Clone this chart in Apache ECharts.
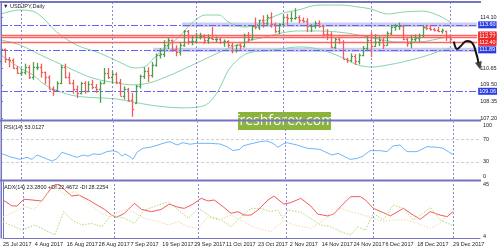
<!DOCTYPE html>
<html><head><meta charset="utf-8">
<script src="https://cdn.jsdelivr.net/npm/echarts@6/dist/echarts.min.js"></script>
<style>html,body{margin:0;padding:0;background:#fff}#c{width:500px;height:250px}</style>
</head><body><div id="c"></div>
<script>
const dates = ['25 Jul 2017','26 Jul 2017','27 Jul 2017','28 Jul 2017','31 Jul 2017',
'1 Aug 2017','2 Aug 2017','3 Aug 2017','4 Aug 2017','7 Aug 2017','8 Aug 2017','9 Aug 2017','10 Aug 2017','11 Aug 2017','14 Aug 2017','15 Aug 2017','16 Aug 2017','17 Aug 2017','18 Aug 2017','21 Aug 2017','22 Aug 2017','23 Aug 2017','24 Aug 2017','25 Aug 2017','28 Aug 2017','29 Aug 2017','30 Aug 2017','31 Aug 2017',
'1 Sep 2017','4 Sep 2017','5 Sep 2017','6 Sep 2017','7 Sep 2017','8 Sep 2017','11 Sep 2017','12 Sep 2017','13 Sep 2017','14 Sep 2017','15 Sep 2017','18 Sep 2017','19 Sep 2017','20 Sep 2017','21 Sep 2017','22 Sep 2017','25 Sep 2017','26 Sep 2017','27 Sep 2017','28 Sep 2017','29 Sep 2017',
'2 Oct 2017','3 Oct 2017','4 Oct 2017','5 Oct 2017','6 Oct 2017','9 Oct 2017','10 Oct 2017','11 Oct 2017','12 Oct 2017','13 Oct 2017','16 Oct 2017','17 Oct 2017','18 Oct 2017','19 Oct 2017','20 Oct 2017','23 Oct 2017','24 Oct 2017','25 Oct 2017','26 Oct 2017','27 Oct 2017','30 Oct 2017','31 Oct 2017',
'1 Nov 2017','2 Nov 2017','3 Nov 2017','6 Nov 2017','7 Nov 2017','8 Nov 2017','9 Nov 2017','10 Nov 2017','13 Nov 2017','14 Nov 2017','15 Nov 2017','16 Nov 2017','17 Nov 2017','20 Nov 2017','21 Nov 2017','22 Nov 2017','23 Nov 2017','24 Nov 2017','27 Nov 2017','28 Nov 2017','29 Nov 2017','30 Nov 2017',
'1 Dec 2017','4 Dec 2017','5 Dec 2017','6 Dec 2017','7 Dec 2017','8 Dec 2017','11 Dec 2017','12 Dec 2017','13 Dec 2017','14 Dec 2017','15 Dec 2017','18 Dec 2017','19 Dec 2017','20 Dec 2017','21 Dec 2017','22 Dec 2017','25 Dec 2017','26 Dec 2017','27 Dec 2017','28 Dec 2017','29 Dec 2017'];

const opens = [111.10,111.92,111.25,111.20,110.68,110.30,110.35,110.75,110.05,110.70,110.75,110.35,110.05,109.25,109.15,109.65,110.70,110.05,109.60,109.25,108.95,109.60,109.05,109.55,109.35,109.25,109.65,110.30,110.05,110.25,109.70,108.75,109.20,108.45,108.25,109.40,110.10,110.45,110.20,110.85,111.55,111.60,112.25,112.55,111.95,111.75,112.20,113.20,112.50,112.50,112.75,112.85,112.55,112.70,112.60,112.65,112.45,112.50,112.25,111.85,112.20,112.15,112.90,112.60,113.50,113.45,113.90,113.70,114.10,113.65,113.20,113.65,114.10,114.05,114.05,114.10,113.90,113.85,113.50,113.50,113.70,113.50,113.00,112.95,112.10,112.60,112.45,111.25,111.20,111.50,111.10,111.55,112.00,112.55,112.15,112.45,112.55,112.25,113.05,113.45,113.55,113.55,112.60,112.35,112.60,112.70,112.90,113.45,113.35,113.30,113.25,113.20,113.15,112.80];
const highs = [112.03,111.98,111.40,111.30,110.80,110.60,110.95,110.85,111.05,111.00,110.95,110.40,110.15,109.40,109.75,110.85,110.95,110.35,109.85,109.45,109.70,109.75,109.75,109.85,109.55,109.75,110.65,110.65,110.45,110.35,109.90,109.40,109.30,108.95,109.50,110.20,110.70,110.70,111.05,111.65,112.00,112.55,112.70,112.60,112.20,112.40,113.25,113.25,112.85,113.05,113.05,112.95,112.95,113.45,112.80,112.75,112.60,112.55,112.40,112.25,112.30,113.00,113.10,113.55,114.10,113.95,114.25,114.30,114.45,113.75,113.70,114.30,114.35,114.50,114.73,114.25,114.10,114.05,113.65,113.85,113.90,113.60,113.30,113.10,112.70,112.70,112.55,111.35,111.65,111.60,111.65,112.15,112.85,113.10,112.95,112.80,112.70,113.15,113.60,113.65,113.75,113.60,112.75,112.90,112.95,113.00,113.55,113.60,113.55,113.40,113.45,113.35,113.20,112.85];
const lows = [110.90,111.00,110.70,110.60,110.25,110.10,110.20,109.90,109.85,110.50,110.00,109.55,109.20,108.75,109.10,109.55,109.95,109.55,108.90,108.60,108.85,108.90,109.00,109.20,108.95,108.27,109.55,109.90,109.60,109.55,108.75,108.50,108.35,107.32,108.20,109.25,109.90,109.70,110.00,110.75,111.30,111.40,111.95,111.75,111.45,111.50,112.10,112.25,112.20,112.35,112.60,112.30,112.30,112.55,112.40,112.30,112.10,112.05,111.65,111.70,111.90,112.05,112.40,112.55,113.30,113.25,113.40,113.55,113.40,113.05,112.95,113.55,113.60,113.80,113.95,113.70,113.75,113.10,113.10,113.35,113.40,112.80,112.55,112.00,111.95,112.30,111.25,111.00,111.05,110.85,110.90,111.45,111.85,111.40,112.10,112.15,111.95,112.20,112.90,113.20,113.25,112.55,112.10,112.00,112.45,112.45,112.75,113.25,113.20,113.15,113.10,113.00,112.50,112.40];
const closes = [111.92,111.25,111.20,110.68,110.30,110.35,110.75,110.05,110.70,110.75,110.35,110.05,109.25,109.15,109.65,110.70,110.05,109.60,109.25,108.95,109.60,109.05,109.55,109.35,109.25,109.65,110.30,110.05,110.25,109.70,108.75,109.20,108.45,107.85,109.40,110.10,110.45,110.20,110.85,111.55,111.60,112.25,112.55,111.95,111.75,112.20,113.20,112.50,112.50,112.75,112.85,112.55,112.70,112.60,112.65,112.45,112.50,112.25,111.85,112.20,112.15,112.90,112.60,113.50,113.45,113.90,113.70,114.10,113.65,113.20,113.65,114.10,114.05,114.05,114.10,113.90,113.85,113.50,113.50,113.70,113.50,113.00,112.95,112.10,112.60,112.45,111.25,111.20,111.50,111.10,111.55,112.00,112.55,112.15,112.45,112.55,112.25,113.05,113.45,113.55,113.55,112.60,112.35,112.60,112.70,112.90,113.45,113.35,113.30,113.25,113.20,113.25,112.80,112.60];

const bbUpper = [[0,114.34],[4.75,114.61],[9,114.41],[14,113.11],[19,112.22],[24.75,111.68],[29.75,111.06],[33.5,110.66],[36,110.72],[38.5,111.34],[41,111.95],[44.75,112.77],[48,113.72],[51.5,114.27],[54.75,114.27],[57.25,113.79],[61,113.45],[64.25,113.59],[67.25,114.00],[71,114.41],[74.75,114.61],[79.75,114.95],[85.5,114.95],[89.75,114.82],[93,114.68],[97.25,114.34],[101,114.47],[106,114.54],[109.75,114.27],[113,113.79]];
const bbMiddle = [[0,112.57],[4.75,112.22],[10.5,111.47],[16.5,110.72],[21.5,110.11],[24.75,109.84],[29,109.63],[33,109.50],[37.25,109.63],[41.5,110.04],[45.5,110.52],[49.75,111.06],[54,111.61],[58,112.09],[62.25,112.50],[66.5,112.77],[70.5,113.04],[74.75,113.18],[79.75,113.18],[84.75,113.11],[88.5,112.97],[92.25,112.77],[96,112.57],[99.75,112.43],[104.75,112.43],[109.75,112.63],[113,112.84]];
const bbLower = [[0,111.54],[4.75,110.66],[8,110.18],[11.5,109.43],[16.5,108.88],[20.5,108.68],[24.75,108.61],[29,108.54],[33,108.34],[37.25,108.13],[41.5,107.99],[45.5,107.93],[49.75,107.99],[52.25,108.27],[54.75,109.16],[57.25,110.52],[59.75,111.27],[62.25,111.68],[66,111.82],[70.5,111.95],[74.75,112.09],[78.5,112.02],[82.25,111.75],[86,111.34],[89.75,110.86],[93.5,110.72],[97.25,110.86],[101,111.06],[106,111.41],[109.75,111.75],[113,112.02]];

const rsi = [[0,45],[2.25,39],[4.75,34.5],[6.5,38],[7.75,34.5],[9,42],[10.5,38],[12.75,31.5],[14,36],[15.25,47],[17.25,42],[19,38],[20.5,42],[21.75,40],[23,44],[24.75,43],[26.5,48],[28,49.7],[29.25,47],[30.25,40],[31,44],[32.25,39],[33,34.5],[34,47],[35.5,54],[37.25,55.6],[39,59],[40.5,62.6],[42.25,65.5],[44,59.6],[45.5,63.7],[47.25,61],[49,62.6],[52.25,62.6],[54.75,61.4],[56.5,56.7],[58,50],[59.75,52],[60.5,58],[62.25,61.4],[64.75,65.5],[66.5,66.7],[68,62.6],[69.25,55.6],[70.5,61.4],[71.5,63.7],[74,59.6],[76.5,54],[79.75,52],[81.5,46],[82.75,42],[84.25,45],[86,39],[87.25,34.5],[89,36],[90.5,40],[92.25,49.7],[94.75,49.7],[96.5,48],[98,58],[99.75,59.6],[101.5,48],[104,48],[106.5,56.7],[109,55.6],[110.5,54],[112.25,46],[113,43]];
const adx = [[0,32.4],[2.25,27.7],[3.5,27.7],[5.25,33],[7.25,32.4],[9.75,31.6],[11.75,40.3],[13,44.5],[14.25,44.5],[15.5,40.3],[17.25,35.5],[19,36.3],[21.5,32.4],[24,27.7],[25.5,25],[27.25,20.5],[28.5,18.7],[30.5,21.9],[33,29.8],[34.75,25],[37.25,23.2],[39.75,25],[41.75,29.2],[44,26.6],[45.5,25.8],[47.75,29.2],[49.75,33.7],[51.5,31.6],[53,32.4],[55.25,27.1],[57.25,21.9],[59,23.2],[60.5,20.5],[62.25,20.5],[64,24.5],[66.5,32.4],[68,35.5],[70.5,29.2],[72.25,30.3],[74.75,33.7],[77.25,27.7],[79,21.3],[81.5,19.8],[83,21.3],[84.75,27.1],[87.25,35],[89.75,35],[91,32.4],[93,25.8],[95.5,22.4],[97.25,19.8],[100.5,25.8],[103,20.5],[104.75,17.2],[107.25,23.2],[109.75,20.5],[111.5,19.2],[113,23.28]];
const plusDI = [[0,15.3],[4.75,8.7],[8,12.7],[13,4.8],[15.25,23.2],[17.25,16.6],[19.75,12.7],[22.25,14],[24.75,11.3],[27.25,20.5],[30.5,18],[33,14],[35.5,24.5],[39,28.4],[41.5,31],[44,24.5],[46.5,18],[49,25.8],[52.25,19.2],[54.75,16.6],[57.25,11.3],[59.75,19.2],[62.25,25.8],[64.75,25.8],[67.25,23.2],[69,24.5],[70.25,18],[71.5,24.5],[74.75,22.6],[77.25,18],[79.75,12.7],[82.25,11.3],[84.75,7.4],[87.25,4.8],[89,11.3],[91,8.7],[93,21.9],[95.5,16.6],[98,28.4],[100.5,25.8],[103,16.6],[105.5,21.9],[107.25,26.6],[109.75,16.6],[113,12]];
const minusDI = [[0,19.2],[5.5,27],[8,25],[10.5,35],[13,44],[15.5,36.3],[18,39],[21.5,29.8],[24,23.2],[26.5,19.2],[29,23.2],[31.5,25],[35.5,18],[39,15.3],[41.5,12.7],[44,15.3],[46.5,11.3],[49,10],[51.5,19.2],[54,16.6],[57.25,20.5],[59.75,16.6],[62.25,11.9],[65.5,8.7],[67.25,7.4],[70.5,16.6],[73,12.7],[77.25,10],[80.5,16.6],[84.75,25.8],[87.25,23.2],[90.5,20.5],[93,18],[95.5,15.3],[98,16.6],[101.5,16.6],[104,14],[107.25,10],[109.75,14],[113,26]];

const priceLabels = [114.10,110.65,109.50,108.35,107.20];
const xLabelIdx = [0,8,16,24,32,40,48,56,64,72,80,88,96,104,113];
const monthLines = [5,28,49,71,93,113];
const blueLevels = [113.60,111.89,109.06];
const redLevels = [112.91,112.77,112.40];
const arrowPath = [[113.9,112.45],[114.75,111.95],[115.5,112.12],[117.25,112.50],[118.5,112.36],[119.4,111.75],[120.1,111.0]];
const arrowTip = [[120.3,110.8]];

const FONT = 'Liberation Sans';
const UP = '#4e9e4e', DN = '#f05c5c', BAND = '#86d4a8', FRAME = '#7474c0', VLINE = '#8a8ad0';
const BLUE_LINE = '#6262ff', RED_LINE = '#ff6464';
const ohlc = dates.map((d, i) => [i, opens[i], highs[i], lows[i], closes[i]]);

function renderBar(params, api) {
  const i = api.value(0), o = api.value(1), h = api.value(2), l = api.value(3), c = api.value(4);
  const ph = api.coord([i, h]), pl = api.coord([i, l]), po = api.coord([i, o]), pc = api.coord([i, c]);
  const x = Math.round(ph[0]) + 0.5;
  const st = { stroke: c >= o ? UP : DN, lineWidth: 1.3 };
  const yo = Math.round(po[1]) + 0.5, yc = Math.round(pc[1]) + 0.5;
  return { type: 'group', children: [
    { type: 'line', shape: { x1: x, y1: ph[1], x2: x, y2: pl[1] }, style: st },
    { type: 'line', shape: { x1: x - 1.6, y1: yo, x2: x, y2: yo }, style: st },
    { type: 'line', shape: { x1: x, y1: yc, x2: x + 1.6, y2: yc }, style: st }
  ]};
}

const boxLabel = (bg) => ({ show: true, position: 'end', distance: 1, formatter: p => p.value.toFixed(2), color: '#fff', backgroundColor: bg, padding: [1, 1, 0, 1], fontSize: 5.5, fontFamily: FONT });
const monthMark = () => ({ symbol: ['none', 'none'], silent: true, label: { show: false },
  lineStyle: { color: VLINE, type: [2, 2], width: 1, opacity: 1 },
  data: monthLines.map(v => ({ xAxis: v })) });

const xBase = { type: 'value', min: 0, max: 119.75, show: false };

const option = {
  animation: false,
  backgroundColor: '#fff',
  textStyle: { fontFamily: FONT },
  grid: [
    { left: 1, right: 20, top: 3, height: 117 },
    { left: 1, right: 20, top: 122, height: 57 },
    { left: 1, right: 20, top: 182, height: 56 }
  ],
  xAxis: [
    Object.assign({ gridIndex: 0 }, xBase),
    Object.assign({ gridIndex: 1 }, xBase),
    { gridIndex: 2, type: 'value', min: 0, max: 119.75,
      axisLine: { show: true, lineStyle: { color: FRAME, width: 1 } },
      axisTick: { show: false }, splitLine: { show: false },
      axisLabel: { customValues: xLabelIdx, formatter: v => dates[v] || '', align: 'left', margin: 3, fontSize: 5.5, color: '#222', fontFamily: FONT } }
  ],
  yAxis: [
    { gridIndex: 0, type: 'value', position: 'right', min: 107.10, max: 115.09,
      axisLine: { show: true, lineStyle: { color: FRAME, width: 1 } },
      axisTick: { show: true, length: 2, customValues: priceLabels, lineStyle: { color: FRAME } },
      splitLine: { show: false },
      axisLabel: { customValues: priceLabels, formatter: v => v.toFixed(2), margin: 3, fontSize: 5.5, color: '#222', fontFamily: FONT } },
    { gridIndex: 1, type: 'value', position: 'right', min: 0, max: 100, interval: 10,
      axisLine: { show: true, lineStyle: { color: FRAME, width: 1 } },
      axisTick: { show: false }, splitLine: { show: false },
      axisLabel: { formatter: v => ([0, 30, 70, 100].indexOf(v) >= 0 ? String(v) : ''), verticalAlignMaxLabel: 'top', verticalAlignMinLabel: 'bottom', margin: 3, fontSize: 5.5, color: '#222', fontFamily: FONT } },
    { gridIndex: 2, type: 'value', position: 'right', min: 2.42, max: 46.58,
      axisLine: { show: true, lineStyle: { color: FRAME, width: 1 } },
      axisTick: { show: false }, splitLine: { show: false },
      axisLabel: { customValues: [4, 45], formatter: v => String(v), margin: 3, fontSize: 5.5, color: '#222', fontFamily: FONT } }
  ],
  series: [
    { name: 'bands-upper', type: 'line', xAxisIndex: 0, yAxisIndex: 0, data: bbUpper, smooth: 0.35, showSymbol: false, silent: true,
      lineStyle: { color: BAND, width: 1 }, itemStyle: { color: BAND },
      markArea: { silent: true, itemStyle: { color: 'rgba(130,130,205,0.4)' },
        data: [[{ xAxis: 45.5, yAxis: 113.45 }, { xAxis: 119.75, yAxis: 113.75 }], [{ xAxis: 38.3, yAxis: 111.74 }, { xAxis: 119.75, yAxis: 112.04 }]] },
      markLine: { symbol: ['none', 'none'], silent: true,
        lineStyle: { color: RED_LINE, type: 'solid', width: 1.3, opacity: 1 },
        label: boxLabel('#f02828'),
        data: redLevels.map(v => ({ yAxis: v })) } },
    { name: 'bands-middle', type: 'line', xAxisIndex: 0, yAxisIndex: 0, data: bbMiddle, smooth: 0.35, showSymbol: false, silent: true,
      lineStyle: { color: BAND, width: 1 }, itemStyle: { color: BAND },
      markLine: monthMark() },
    { name: 'bands-lower', type: 'line', xAxisIndex: 0, yAxisIndex: 0, data: bbLower, smooth: 0.35, showSymbol: false, silent: true,
      lineStyle: { color: BAND, width: 1 }, itemStyle: { color: BAND },
      markLine: { symbol: ['none', 'none'], silent: true,
        lineStyle: { color: BLUE_LINE, type: [7, 2, 2, 2], width: 1.1, opacity: 1 },
        label: boxLabel('#2a3de4'),
        data: blueLevels.map(v => ({ yAxis: v })) } },
    { name: 'USDJPY', type: 'custom', xAxisIndex: 0, yAxisIndex: 0, data: ohlc, renderItem: renderBar, z: 5,
      encode: { x: 0, y: [1, 2, 3, 4] } },
    { name: 'arrow', type: 'line', xAxisIndex: 0, yAxisIndex: 0, data: arrowPath, smooth: 0.5, showSymbol: false, clip: false, z: 10,
      lineStyle: { color: '#111', width: 2 } },
    { name: 'arrowhead', type: 'scatter', xAxisIndex: 0, yAxisIndex: 0, data: arrowTip, symbol: 'triangle', symbolSize: [7, 8], symbolRotate: 195, clip: false, z: 10,
      itemStyle: { color: '#111' } },
    { name: 'RSI', type: 'line', xAxisIndex: 1, yAxisIndex: 1, data: rsi, showSymbol: false, silent: true,
      lineStyle: { color: '#72b6f6', width: 1 }, itemStyle: { color: '#72b6f6' },
      markLine: { symbol: ['none', 'none'], silent: true, label: { show: false },
        lineStyle: { color: '#d0d0d0', type: [3, 2], width: 1, opacity: 1 },
        data: [{ yAxis: 70 }, { yAxis: 30 }] } },
    { name: 'RSI-sep', type: 'line', xAxisIndex: 1, yAxisIndex: 1, data: [[0, null]], showSymbol: false, silent: true,
      markLine: monthMark() },
    { name: 'ADX', type: 'line', xAxisIndex: 2, yAxisIndex: 2, data: adx, showSymbol: false, silent: true,
      lineStyle: { color: '#f25a5a', width: 1 }, itemStyle: { color: '#f25a5a' },
      markLine: monthMark() },
    { name: '+DI', type: 'line', xAxisIndex: 2, yAxisIndex: 2, data: plusDI, showSymbol: false, silent: true,
      lineStyle: { color: '#b4d66e', width: 1, type: [1.5, 1.5] } },
    { name: '-DI', type: 'line', xAxisIndex: 2, yAxisIndex: 2, data: minusDI, showSymbol: false, silent: true,
      lineStyle: { color: '#f3d6a8', width: 1, type: [1.5, 1.5] } }
  ],
  graphic: [
    { type: 'rect', shape: { x: 0, y: 1, width: 481, height: 2 }, style: { fill: FRAME }, z: 50, silent: true },
    { type: 'rect', shape: { x: 0, y: 119.5, width: 481, height: 2 }, style: { fill: FRAME }, z: 50, silent: true },
    { type: 'rect', shape: { x: 0, y: 179.5, width: 481, height: 2 }, style: { fill: FRAME }, z: 50, silent: true },
    { type: 'rect', shape: { x: 0.5, y: 1, width: 1.5, height: 237.5 }, style: { fill: FRAME }, z: 50, silent: true },
    { type: 'text', x: 3, y: 3, style: { text: '▼ USDJPY,Daily', fill: '#222', font: '5.5px ' + FONT }, z: 60, silent: true },
    { type: 'text', x: 4, y: 124, style: { text: 'RSI(14) 53.0127', fill: '#222', font: '5.5px ' + FONT }, z: 60, silent: true },
    { type: 'text', x: 4, y: 184, style: { text: 'ADX(14) 23.2800 +DI 22.4672 -DI 28.2254', fill: '#222', font: '5.5px ' + FONT }, z: 60, silent: true },
    { type: 'group', z: 100, silent: true, children: [
      { type: 'rect', shape: { x: 238, y: 112, width: 93, height: 18 }, style: { fill: '#8cb33c' } },
      { type: 'text', x: 284.5, y: 121, style: { text: 'freshforex.com', fill: '#fff', font: '14px "Open Sans"', align: 'center', verticalAlign: 'middle' } }
    ] }
  ]
};

const chart = echarts.init(document.getElementById('c'), null, { renderer: 'canvas', width: 500, height: 250 });
chart.setOption(option);
</script>
</body></html>
